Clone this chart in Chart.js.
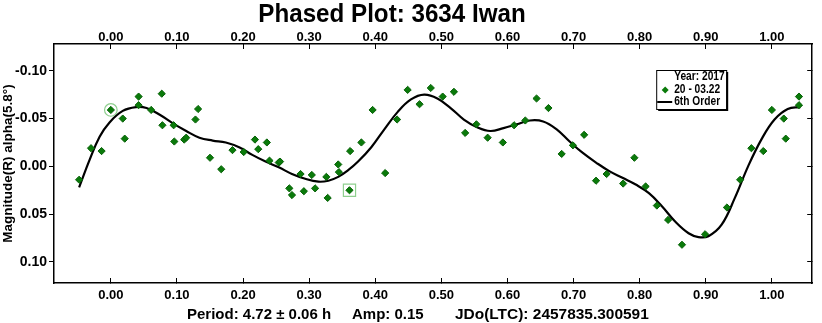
<!DOCTYPE html>
<html>
<head>
<meta charset="utf-8">
<title>Phased Plot: 3634 Iwan</title>
<script src="https://cdn.jsdelivr.net/npm/chart.js@4.4.1/dist/chart.umd.min.js"></script>
<style>
  html, body { margin: 0; padding: 0; background: #fff; }
  #wrap { width: 822px; height: 323px; }
</style>
</head>
<body>
<div id="wrap"><canvas id="phaseChart" width="822" height="323"></canvas></div>
<script>
// --- data ---
const obsPhase = [
  -0.048, -0.030, -0.014, 0.000, 0.018, 0.021, 0.042, 0.042, 0.061, 0.077,
  0.078, 0.095, 0.096, 0.111, 0.114, 0.128, 0.132, 0.150, 0.167, 0.184,
  0.201, 0.218, 0.223, 0.236, 0.240, 0.254, 0.256, 0.270, 0.274, 0.287,
  0.292, 0.304, 0.309, 0.326, 0.328, 0.344, 0.345, 0.361, 0.362, 0.379,
  0.396, 0.415, 0.433, 0.449, 0.467, 0.484, 0.502, 0.519, 0.536, 0.553,
  0.570, 0.593, 0.610, 0.627, 0.644, 0.662, 0.682, 0.699, 0.716, 0.734,
  0.750, 0.775, 0.792, 0.809, 0.826, 0.843, 0.864, 0.899, 0.932, 0.952,
  0.969, 0.987, 1.000, 1.018, 1.021, 1.041, 1.041
];
const obsMag = [
  0.014, -0.019, -0.016, -0.059, -0.050, -0.029, -0.073, -0.064, -0.059, -0.076,
  -0.043, -0.043, -0.026, -0.028, -0.030, -0.049, -0.060, -0.009, 0.003, -0.017,
  -0.015, -0.028, -0.018, -0.025, -0.006, -0.004, -0.005, 0.023, 0.030, 0.008,
  0.026, 0.009, 0.023, 0.011, 0.033, -0.002, 0.006, 0.025, -0.016, -0.025,
  -0.059, 0.007, -0.049, -0.080, -0.065, -0.082, -0.073, -0.078, -0.035, -0.044,
  -0.030, -0.025, -0.043, -0.048, -0.071, -0.061, -0.013, -0.022, -0.033, 0.015,
  0.008, 0.018, -0.009, 0.021, 0.041, 0.056, 0.082, 0.071, 0.043, 0.014,
  -0.019, -0.016, -0.059, -0.050, -0.029, -0.073, -0.064
];

// 6th order fit
const fitPhase = [
  -0.048, -0.032, -0.017, -0.002, 0.018, 0.038, 0.054, 0.074, 0.094, 0.114,
  0.134, 0.154, 0.174, 0.194, 0.214, 0.234, 0.254, 0.274, 0.294, 0.314,
  0.329, 0.344, 0.359, 0.374, 0.394, 0.414, 0.434, 0.454, 0.474, 0.494,
  0.514, 0.534, 0.554, 0.574, 0.594, 0.614, 0.634, 0.654, 0.674, 0.694,
  0.714, 0.734, 0.754, 0.774, 0.794, 0.814, 0.834, 0.854, 0.874, 0.889,
  0.904, 0.924, 0.944, 0.964, 0.984, 1.004, 1.024, 1.043
];
const fitMag = [
  0.022, -0.007, -0.031, -0.046, -0.058, -0.062, -0.061, -0.054, -0.045, -0.037,
  -0.030, -0.027, -0.025, -0.020, -0.012, -0.005, 0.001, 0.008, 0.013, 0.016,
  0.015, 0.011, 0.004, -0.005, -0.020, -0.039, -0.057, -0.070, -0.075, -0.071,
  -0.061, -0.049, -0.041, -0.037, -0.040, -0.044, -0.048, -0.047, -0.039, -0.026,
  -0.014, -0.004, 0.005, 0.012, 0.019, 0.028, 0.042, 0.058, 0.070, 0.074,
  0.073, 0.061, 0.033, 0.000, -0.028, -0.049, -0.060, -0.062
];

// the two marked observations (circle = first point, box = excluded one)
const circledPoint = [0.000, -0.059];
const boxedPoint = [0.361, 0.025];

const xTicks = [0.0, 0.1, 0.2, 0.3, 0.4, 0.5, 0.6, 0.7, 0.8, 0.9, 1.0];
const yTicks = [-0.10, -0.05, 0.00, 0.05, 0.10];

const titleText = 'Phased Plot: 3634 Iwan';
const yTitleText = 'Magnitude(R) alpha(5.8°)';
const footerParts = ['Period: 4.72 ± 0.06 h', 'Amp: 0.15', 'JDo(LTC): 2457835.300591'];
const legendYear = 'Year: 2017';
const legendSeries = '20 - 03.22';
const legendFit = '6th Order';

const FONT = "'Liberation Sans', Arial, sans-serif";
const GREEN = '#0a7a0a';

const obsData = obsPhase.map((p, i) => ({ x: p, y: obsMag[i] }));
const fitData = fitPhase.map((p, i) => ({ x: p, y: fitMag[i] }));

// text squeezed sideways, the original uses a condensed face
function narrowText(ctx, text, x, y, squeeze) {
  ctx.save();
  ctx.translate(x, y);
  ctx.scale(squeeze, 1);
  ctx.fillText(text, 0, 0);
  ctx.restore();
}

// title, footer and the little framed legend
const decorations = {
  id: 'decorations',
  afterDraw(chart) {
    const ctx = chart.ctx;
    const area = chart.chartArea;
    ctx.save();
    ctx.fillStyle = '#000';
    ctx.textBaseline = 'alphabetic';
    ctx.textAlign = 'center';
    ctx.font = 'bold 26px ' + FONT;
    narrowText(ctx, titleText, 392, 22, 0.93);

    ctx.textAlign = 'left';
    ctx.font = 'bold 15px ' + FONT;
    narrowText(ctx, footerParts[0], 187, 319, 1.0);
    narrowText(ctx, footerParts[1], 352, 319, 1.0);
    narrowText(ctx, footerParts[2], 455, 319, 1.03);

    // legend box
    const lx = area.right - 156, ly = area.top + 26, lw = 70, lh = 39;
    ctx.fillStyle = '#000';
    ctx.fillRect(lx + 2, ly + 2, lw, lh);
    ctx.fillStyle = '#fff';
    ctx.fillRect(lx, ly, lw, lh);
    ctx.strokeStyle = '#000';
    ctx.lineWidth = 1;
    ctx.strokeRect(lx + 0.5, ly + 0.5, lw, lh);

    ctx.fillStyle = '#000';
    ctx.font = 'bold 12px ' + FONT;
    ctx.textBaseline = 'middle';
    narrowText(ctx, legendYear, lx + 18, ly + 7, 0.85);
    narrowText(ctx, legendSeries, lx + 18, ly + 20, 0.85);
    narrowText(ctx, legendFit, lx + 18, ly + 32, 0.85);

    ctx.fillStyle = GREEN;
    ctx.beginPath();
    const dx = lx + 9, dy = ly + 20;
    ctx.moveTo(dx - 3.5, dy); ctx.lineTo(dx, dy - 3.5);
    ctx.lineTo(dx + 3.5, dy); ctx.lineTo(dx, dy + 3.5);
    ctx.closePath();
    ctx.fill();

    ctx.strokeStyle = '#000';
    ctx.lineWidth = 2;
    ctx.beginPath();
    ctx.moveTo(lx + 1, ly + 32);
    ctx.lineTo(lx + 16, ly + 32);
    ctx.stroke();
    ctx.restore();
  }
};

function xAxis(pos, height, pad) {
  return {
    type: 'linear',
    position: pos,
    min: -0.086,
    max: 1.061,
    afterBuildTicks: s => { s.ticks = xTicks.map(v => ({ value: v })); },
    afterFit: s => { s.height = height; },
    ticks: {
      callback: v => v.toFixed(2),
      color: '#000',
      font: { family: FONT, size: 13, weight: 'bold' },
      padding: pad,
      autoSkip: false,
      maxRotation: 0
    },
    grid: { drawOnChartArea: false, tickLength: -5, tickColor: '#000', tickWidth: 1 },
    border: { color: '#000', width: 1.5 }
  };
}

function yAxis(pos, width, showLabels) {
  return {
    type: 'linear',
    position: pos,
    reverse: true,
    min: -0.128,
    max: 0.122,
    afterBuildTicks: s => { s.ticks = yTicks.map(v => ({ value: v })); },
    afterFit: s => { s.width = width; },
    ticks: {
      display: showLabels,
      callback: v => v.toFixed(2),
      color: '#000',
      font: { family: FONT, size: 14, weight: 'bold' },
      padding: 2
    },
    title: {
      display: showLabels,
      text: yTitleText,
      color: '#000',
      font: { family: FONT, size: 13.5, weight: 'bold' },
      padding: { top: 0, bottom: 0 }
    },
    grid: { drawOnChartArea: false, tickLength: showLabels ? 5 : -5, tickColor: '#000', tickWidth: 1 },
    border: { color: '#000', width: 1.5 }
  };
}

new Chart(document.getElementById('phaseChart'), {
  type: 'scatter',
  data: {
    datasets: [
      {
        label: legendFit,
        data: fitData,
        showLine: true,
        borderColor: '#000',
        borderWidth: 2.2,
        pointRadius: 0,
        tension: 0.4,
        fill: false,
        order: 2
      },
      {
        label: legendSeries,
        data: obsData,
        pointStyle: 'rectRot',
        pointRadius: 3.6,
        backgroundColor: GREEN,
        borderColor: '#056005',
        borderWidth: 1,
        order: 1
      },
      {
        label: 'first point',
        data: [{ x: circledPoint[0], y: circledPoint[1] }],
        pointStyle: 'circle',
        pointRadius: 6.3,
        backgroundColor: 'rgba(0,0,0,0)',
        borderColor: '#8fcf8f',
        borderWidth: 1.2,
        order: 0
      },
      {
        label: 'excluded',
        data: [{ x: boxedPoint[0], y: boxedPoint[1] }],
        pointStyle: 'rect',
        pointRadius: 8.6,
        backgroundColor: 'rgba(0,0,0,0)',
        borderColor: '#8fcf8f',
        borderWidth: 1.2,
        order: 0
      }
    ]
  },
  options: {
    responsive: false,
    animation: false,
    layout: { padding: { top: 28, bottom: 19, left: 0, right: 0 } },
    plugins: {
      legend: { display: false },
      tooltip: { enabled: false },
      title: { display: false }
    },
    scales: {
      x: xAxis('bottom', 21, 10),
      x2: xAxis('top', 16, 4),
      y: yAxis('left', 54, true),
      y2: yAxis('right', 4, false)
    }
  },
  plugins: [decorations]
});
</script>
</body>
</html>
